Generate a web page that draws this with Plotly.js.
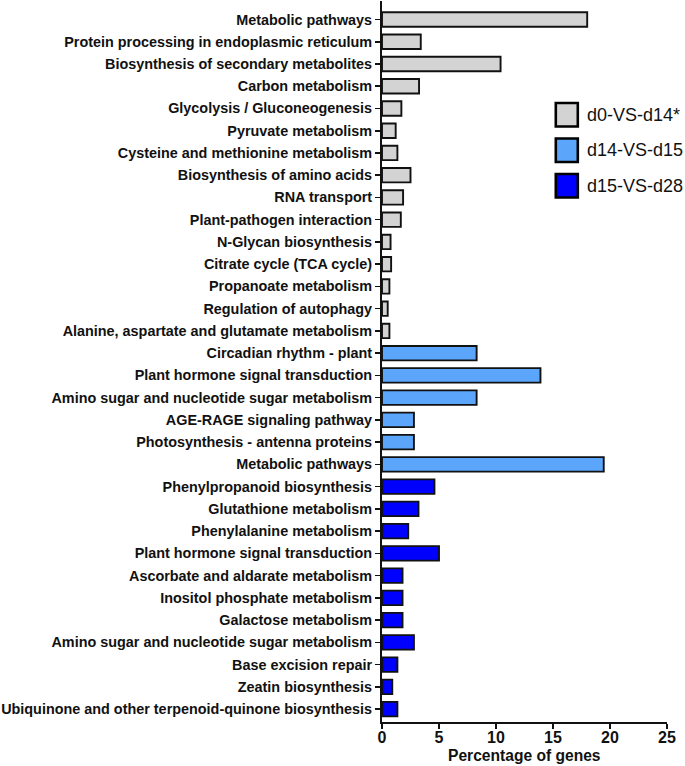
<!DOCTYPE html>
<html>
<head>
<meta charset="utf-8">
<script src="https://cdn.plot.ly/plotly-3.0.1.min.js"></script>
<style>html,body{margin:0;padding:0;background:#fff;}#chart{width:685px;height:766px;}</style>
</head>
<body>
<div id="chart"></div>
<script>
const seriesNames = ["d0-VS-d14*", "d14-VS-d15", "d15-VS-d28"];
const seriesColors = ["#d3d3d3", "#5ba6fb", "#0000ff"];

const catsA = ["Metabolic pathways", "Protein processing in endoplasmic reticulum", "Biosynthesis of secondary metabolites",
  "Carbon metabolism", "Glycolysis / Gluconeogenesis", "Pyruvate metabolism", "Cysteine and methionine metabolism",
  "Biosynthesis of amino acids", "RNA transport", "Plant-pathogen interaction", "N-Glycan biosynthesis",
  "Citrate cycle (TCA cycle)", "Propanoate metabolism", "Regulation of autophagy", "Alanine, aspartate and glutamate metabolism"];
const valsA = [18.0, 3.4, 10.4, 3.25, 1.7, 1.2, 1.35, 2.5, 1.85, 1.65, 0.75, 0.8, 0.65, 0.5, 0.65];

const catsB = ["Circadian rhythm - plant", "Plant hormone signal transduction", "Amino sugar and nucleotide sugar metabolism",
  "AGE-RAGE signaling pathway", "Photosynthesis - antenna proteins", "Metabolic pathways"];
const valsB = [8.3, 13.9, 8.3, 2.8, 2.8, 19.45];

const catsC = ["Phenylpropanoid biosynthesis", "Glutathione metabolism", "Phenylalanine metabolism",
  "Plant hormone signal transduction", "Ascorbate and aldarate metabolism", "Inositol phosphate metabolism",
  "Galactose metabolism", "Amino sugar and nucleotide sugar metabolism", "Base excision repair",
  "Zeatin biosynthesis", "Ubiquinone and other terpenoid-quinone biosynthesis"];
const valsC = [4.6, 3.2, 2.3, 5.0, 1.8, 1.8, 1.8, 2.8, 1.35, 0.9, 1.35];

const xTickVals = [0, 5, 10, 15, 20, 25];
const xTitle = "Percentage of genes";

const groups = [[catsA, valsA], [catsB, valsB], [catsC, valsC]];
const allCats = [];
const traces = [];
let offset = 0;
groups.forEach((g, gi) => {
  const ys = g[0].map((_, i) => offset + i);
  g[0].forEach(c => allCats.push(c));
  offset += g[0].length;
  traces.push({
    type: "bar", orientation: "h",
    x: g[1], y: ys, width: 0.65,
    name: seriesNames[gi],
    marker: {color: seriesColors[gi], line: {color: "#111", width: 1.9}},
    showlegend: false, hoverinfo: "x+text", text: g[0], textposition: "none"
  });
});
const n = allCats.length;

const FONT = "Liberation Sans, Arial, sans-serif";
// custom legend (boxes + labels), positions in paper units
const shapes = [];
const annotations = [];
const plotTop = 1, plotH = 721;
seriesNames.forEach((nm, i) => {
  const top = 103 + i * 35.5, bot = top + 23.5;
  shapes.push({type: "rect", xref: "paper", yref: "paper",
    x0: (555.5 - 381.7) / 285, x1: (577.5 - 381.7) / 285,
    y0: 1 - (bot - plotTop) / plotH, y1: 1 - (top - plotTop) / plotH,
    fillcolor: seriesColors[i], line: {color: "#000", width: 2.6}});
  annotations.push({xref: "paper", yref: "paper", x: (585 - 381.7) / 285, y: 1 - ((top + bot) / 2 - plotTop) / plotH,
    xanchor: "left", yanchor: "middle", text: nm, showarrow: false,
    font: {family: FONT, size: 18, color: "#111"}});
});
// x-axis title placed as annotation beneath tick labels
annotations.push({xref: "paper", yref: "paper", x: 0.5, y: 1 - (755 - plotTop) / plotH,
  xanchor: "center", yanchor: "middle", text: xTitle, showarrow: false,
  font: {family: FONT, size: 15.6, weight: "bold", color: "#111"}});

const layout = {
  width: 685, height: 766,
  margin: {l: 382, r: 18, t: 1, b: 44},
  paper_bgcolor: "#fff", plot_bgcolor: "#fff",
  barmode: "overlay",
  showlegend: false,
  xaxis: {
    range: [0, 25], tickvals: xTickVals, ticktext: xTickVals.map(String),
    showgrid: false, zeroline: false, automargin: false,
    showline: true, linecolor: "#111", linewidth: 2,
    ticks: "outside", ticklen: 5, tickwidth: 2, tickcolor: "#111",
    ticklabelstandoff: -5,
    tickfont: {family: FONT, size: 16, weight: "bold", color: "#111"}
  },
  yaxis: {
    range: [n - 0.42, -0.83],
    tickvals: allCats.map((_, i) => i), ticktext: allCats,
    showgrid: false, zeroline: false, automargin: false,
    showline: true, linecolor: "#111", linewidth: 2,
    ticks: "outside", ticklen: 5, tickwidth: 1.6, tickcolor: "#111",
    tickfont: {family: FONT, size: 14.4, weight: "bold", color: "#111"}
  },
  shapes: shapes,
  annotations: annotations
};

Plotly.newPlot("chart", traces, layout, {displayModeBar: false, staticPlot: true});
</script>
</body>
</html>
